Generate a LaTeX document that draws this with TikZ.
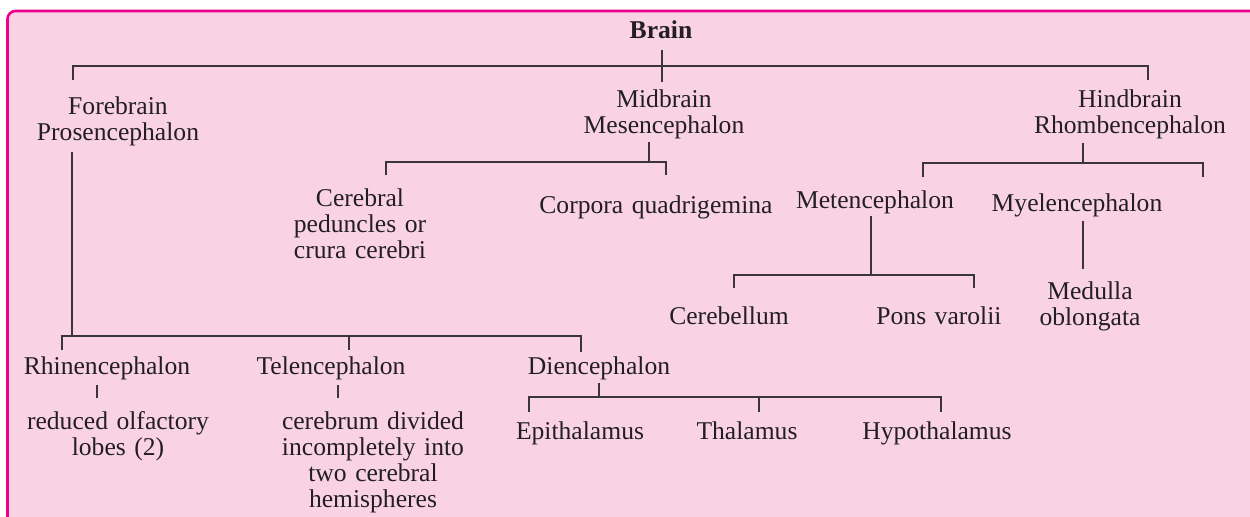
\documentclass[tikz,border=0pt]{standalone}
\usepackage{fontspec}
\setmainfont{Liberation Serif}
\definecolor{framepink}{HTML}{EC008C}
\definecolor{fillpink}{HTML}{F9D3E4}
\definecolor{ink}{HTML}{231F20}
\definecolor{linegray}{HTML}{3A3638}
\tikzset{
  lbl/.style={anchor=base, inner sep=0pt, align=center, text width=140pt, text=ink,
    font=\fontsize{12.8}{13}\selectfont},
  tree/.style={draw=linegray, line width=0.6pt}
}
\begin{document}
\begin{tikzpicture}[x=0.5pt,y=-0.5pt]
\useasboundingbox (0,0) rectangle (1250,516);
\clip (0,0) rectangle (1250,516);
\draw[draw=framepink, fill=fillpink, line width=1.3pt, rounded corners=4pt] (7.5,11) rectangle (1290,560);

% nodes
\node[lbl, font=\fontsize{12.8}{13}\selectfont\bfseries] (brain) at (661,38) {Brain};
\node[lbl] (fore) at (118,114) {Forebrain\\Prosencephalon};
\node[lbl] (mid) at (664,107) {Midbrain\\Mesencephalon};
\node[lbl] (hind) at (1130,107) {Hindbrain\\Rhombencephalon};
\node[lbl] (ped) at (360,206) {Cerebral\\peduncles or\\crura cerebri};
\node[lbl] (corp) at (656,213) {Corpora quadrigemina};
\node[lbl] (met) at (875,208) {Metencephalon};
\node[lbl] (myel) at (1077,211) {Myelencephalon};
\node[lbl] (cbl) at (729,324) {Cerebellum};
\node[lbl] (pons) at (939,324) {Pons varolii};
\node[lbl] (med) at (1090,299) {Medulla\\oblongata};
\node[lbl] (rhin) at (107,374) {Rhinencephalon};
\node[lbl] (tel) at (331,374) {Telencephalon};
\node[lbl] (dien) at (599,374) {Diencephalon};
\node[lbl] (olf) at (118,429) {reduced olfactory\\lobes (2)};
\node[lbl] (cer) at (373,429) {cerebrum divided\\incompletely into\\two cerebral\\hemispheres};
\node[lbl] (epi) at (580,439) {Epithalamus};
\node[lbl] (thal) at (747,439) {Thalamus};
\node[lbl] (hypo) at (937,439) {Hypothalamus};

% junction coordinates
\coordinate (b1) at (662,50); \coordinate (b2) at (662,82);
\coordinate (bl) at (73,80); \coordinate (br) at (1148,80);
\coordinate (f1) at (72,152); \coordinate (f2) at (72,336);
\coordinate (fl) at (62,350); \coordinate (fm) at (349,350); \coordinate (fr) at (581,352);
\coordinate (m1) at (649,142); \coordinate (m2) at (649,162);
\coordinate (ml) at (386,175); \coordinate (mr) at (666,175);
\coordinate (h1) at (1083,143); \coordinate (h2) at (1083,163);
\coordinate (hl) at (923,177); \coordinate (hr) at (1203,177);
\coordinate (t1) at (871,216); \coordinate (t2) at (871,275);
\coordinate (tl) at (734,288); \coordinate (tr) at (974,288);
\coordinate (y1) at (1083,221); \coordinate (y2) at (1083,269);
\coordinate (r1) at (97,385); \coordinate (r2) at (97,398);
\coordinate (e1) at (338,385); \coordinate (e2) at (338,398);
\coordinate (d1) at (599,383); \coordinate (d2) at (599,397);
\coordinate (dl) at (529,412); \coordinate (dm) at (759,412); \coordinate (dr) at (941,412);

% connectors
\draw[tree] (b1) -- (b2);
\draw[tree] (bl) -- (bl |- 0,66) -- (br |- 0,66) -- (br);
\draw[tree] (f1) -- (f2);
\draw[tree] (fl) -- (fl |- f2) -- (fr |- f2) -- (fr);
\draw[tree] (fm |- f2) -- (fm);
\draw[tree] (m1) -- (m2);
\draw[tree] (ml) -- (ml |- m2) -- (mr |- m2) -- (mr);
\draw[tree] (h1) -- (h2);
\draw[tree] (hl) -- (hl |- h2) -- (hr |- h2) -- (hr);
\draw[tree] (t1) -- (t2);
\draw[tree] (tl) -- (tl |- t2) -- (tr |- t2) -- (tr);
\draw[tree] (y1) -- (y2);
\draw[tree] (r1) -- (r2);
\draw[tree] (e1) -- (e2);
\draw[tree] (d1) -- (d2);
\draw[tree] (dl) -- (dl |- d2) -- (dr |- d2) -- (dr);
\draw[tree] (dm |- d2) -- (dm);
\end{tikzpicture}
\end{document}
